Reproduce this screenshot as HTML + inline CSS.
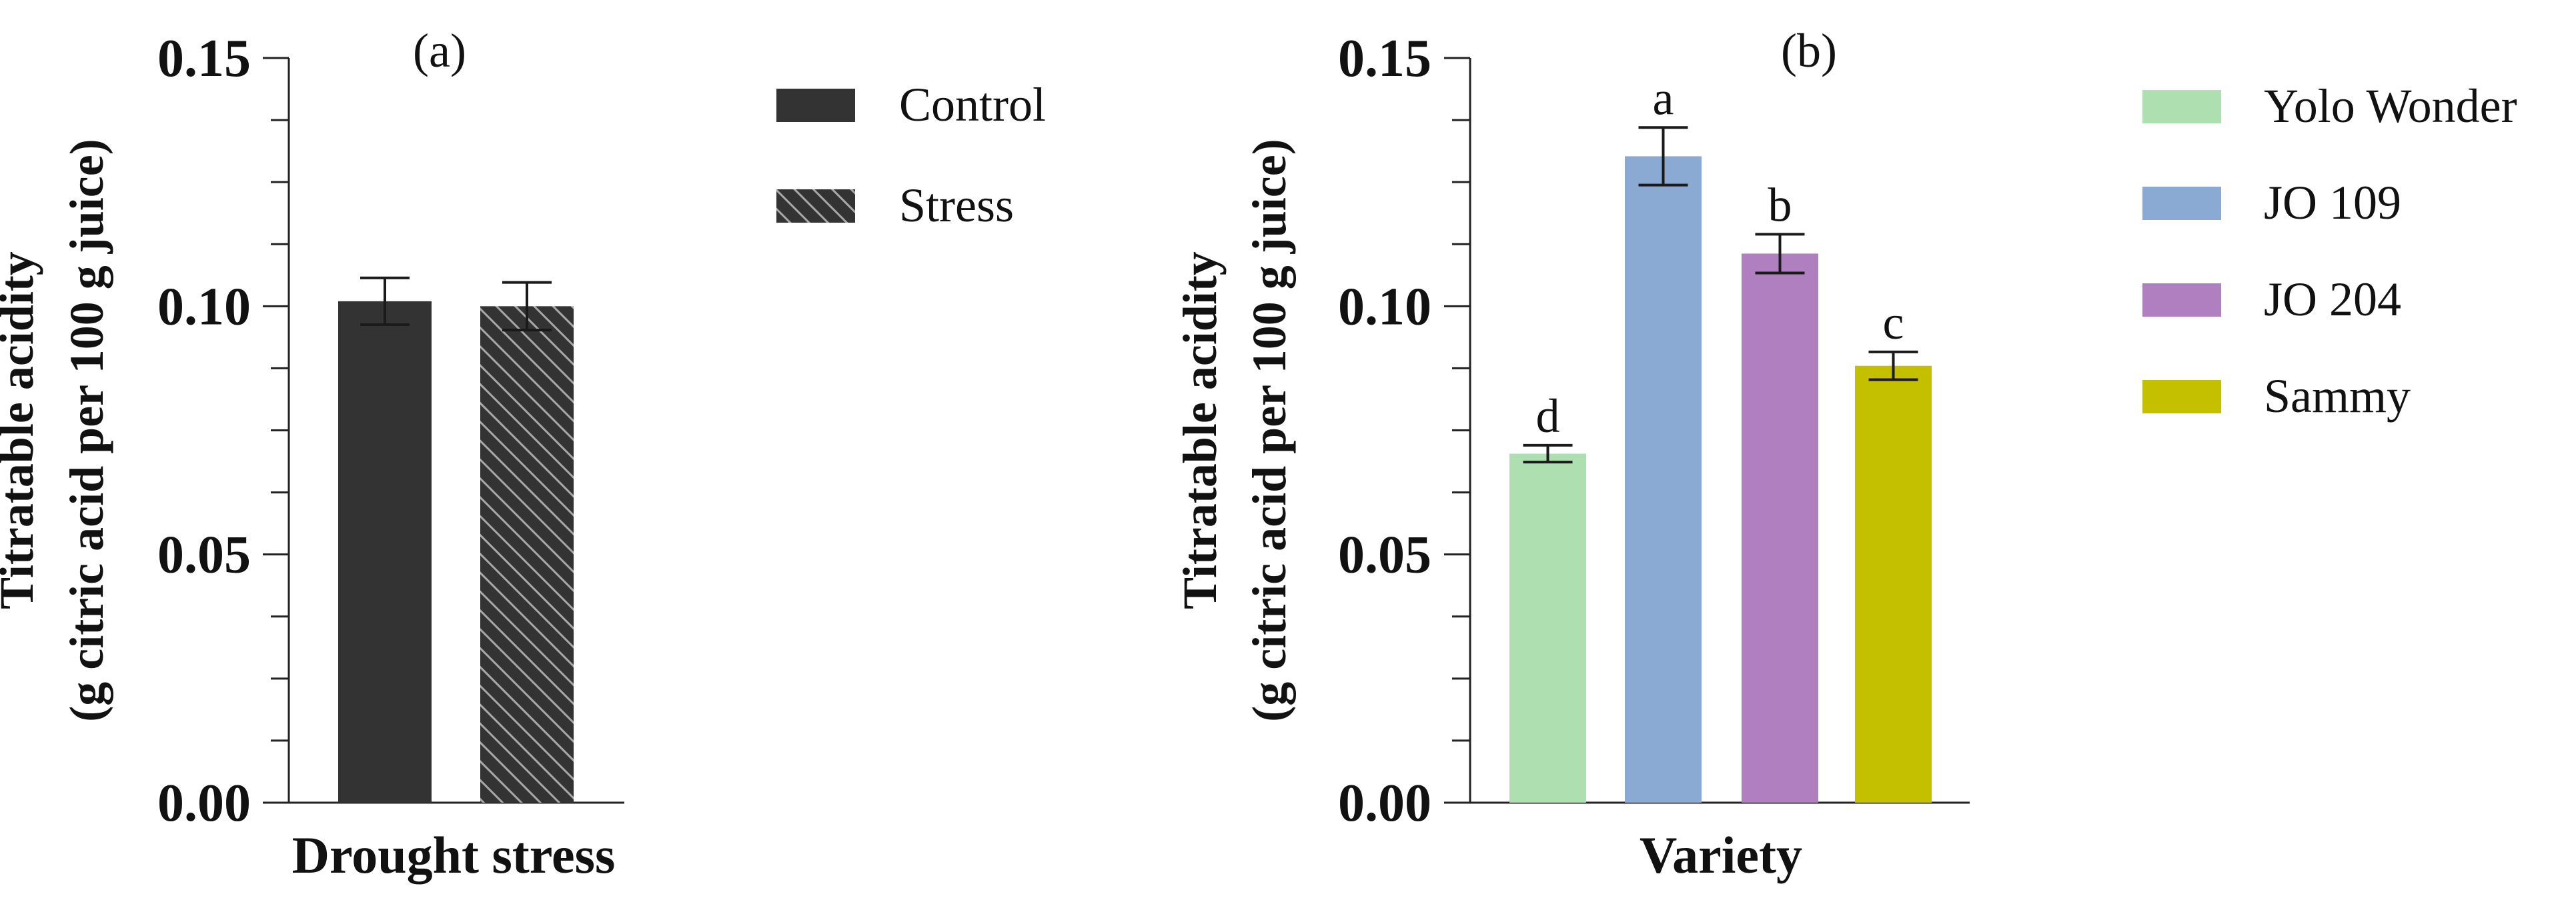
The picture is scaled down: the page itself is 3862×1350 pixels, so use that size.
<!DOCTYPE html>
<html><head><meta charset="utf-8"><style>
html,body{margin:0;padding:0;background:#fff}
svg{display:block}
text{font-family:"Liberation Serif",serif;fill:#111}
</style></head><body>
<svg id="chart" width="3862" height="1350" viewBox="0 0 3862 1350" xmlns="http://www.w3.org/2000/svg">
<defs>
<pattern id="hatch" patternUnits="userSpaceOnUse" width="20" height="20" patternTransform="rotate(-45)">
<rect width="20" height="20" fill="#333333"/>
<rect x="0" y="0" width="3" height="20" fill="#a8a8a8"/>
</pattern>
</defs>
<g id="pa"></g>
<g id="pb"></g>
</svg>
<script>
const aCategories = ['Control','Stress'];
const aValues = [0.101, 0.100];
const aErrors = [0.0047, 0.0048];
const bCategories = ['Yolo Wonder','JO 109','JO 204','Sammy'];
const bValues = [0.0703, 0.1302, 0.1106, 0.088];
const bErrors = [0.0017, 0.0058, 0.0039, 0.0028];
const bLetters = ['d','a','b','c'];
const yTicks = [0, 0.05, 0.10, 0.15];
const yTickLabels = ['0.00','0.05','0.10','0.15'];

const NS='http://www.w3.org/2000/svg';
function mk(parent,tag,attrs,txt){const e=document.createElementNS(NS,tag);for(const k in attrs)e.setAttribute(k,attrs[k]);if(txt!==undefined)e.textContent=txt;parent.appendChild(e);return e;}
const Y0=1204,Y1=87;
function yS(v){return Y0-(v/0.15)*(Y0-Y1);}

function panel(g,axX,axEnd,labelRight,titleX1,titleX2,cats,vals,errs,bx,bw,fills,xTitle,xTitleX,pTitle,pTitleX,legX,legTextX,legY,legStep,letters){
  const ax=mk(g,'line',{x1:axX,y1:Y1,x2:axX,y2:Y0,stroke:'#222','stroke-width':3});
  
  
  const xa=mk(g,'line',{x1:axX,y1:Y0,x2:axEnd,y2:Y0,stroke:'#222','stroke-width':3});
  
  
  for(let i=0;i<=12;i++){const v=i*0.0125;const major=i%4===0;
    const t=mk(g,'line',{x1:axX-(major?39:27),y1:yS(v),x2:axX,y2:yS(v),stroke:'#222','stroke-width':3});
    
    }
  yTicks.forEach((v,i)=>{const t=mk(g,'text',{x:labelRight,y:yS(v)+27,'text-anchor':'end','font-size':80,'font-weight':'bold'},yTickLabels[i]);
    
    });
  const tc=(Y0+Y1)/2;
  const t1=mk(g,'text',{x:titleX1,y:tc,'text-anchor':'middle','font-size':72,'font-weight':'bold',transform:`rotate(-90 ${titleX1} ${tc})`},'Titratable acidity');
  
  
  const t2=mk(g,'text',{x:titleX2,y:tc,'text-anchor':'middle','font-size':72,'font-weight':'bold',transform:`rotate(-90 ${titleX2} ${tc})`},'(g citric acid per 100 g juice)');
  
  
  const xt=mk(g,'text',{x:xTitleX,y:1309,'text-anchor':'middle','font-size':78,'font-weight':'bold'},xTitle);
  
  
  const pt=mk(g,'text',{x:pTitleX,y:100,'text-anchor':'middle','font-size':72},pTitle);
  
  
  cats.forEach((c,i)=>{
    const top=yS(vals[i]);
    const r=mk(g,'rect',{x:bx[i],y:top,width:bw,height:Y0-top,fill:fills[i]});
    
    
    const cx=bx[i]+bw/2,hi=yS(vals[i]+errs[i]),lo=yS(vals[i]-errs[i]);
    const e=mk(g,'path',{d:`M${cx-37},${hi}H${cx+37}M${cx},${hi}V${lo}M${cx-37},${lo}H${cx+37}`,stroke:'#1a1a1a','stroke-width':4,fill:'none'});
    
    
    if(letters){const l=mk(g,'text',{x:cx,y:hi-20,'text-anchor':'middle','font-size':72},letters[i]);
      
      }
    const ly=legY+i*legStep;
    const s=mk(g,'rect',{x:legX,y:ly,width:118,height:50,fill:fills[i]});
    
    
    const lt=mk(g,'text',{x:legTextX,y:ly+48,'font-size':72},c);
    
    
  });
}
panel(document.getElementById('pa'),433,936,376,49,154,aCategories,aValues,aErrors,[507,720],140,['#333333','url(#hatch)'],'Drought stress',680,'(a)',659,1164,1348,133,151,null);
panel(document.getElementById('pb'),2204,2953,2146,1823,1927,bCategories,bValues,bErrors,[2263,2436,2611,2781],115,['#addfb0','#8aaad3','#b07fc0','#c4c000'],'Variety',2580,'(b)',2712,3212,3394,135,145,bLetters);
</script>
</body></html>
